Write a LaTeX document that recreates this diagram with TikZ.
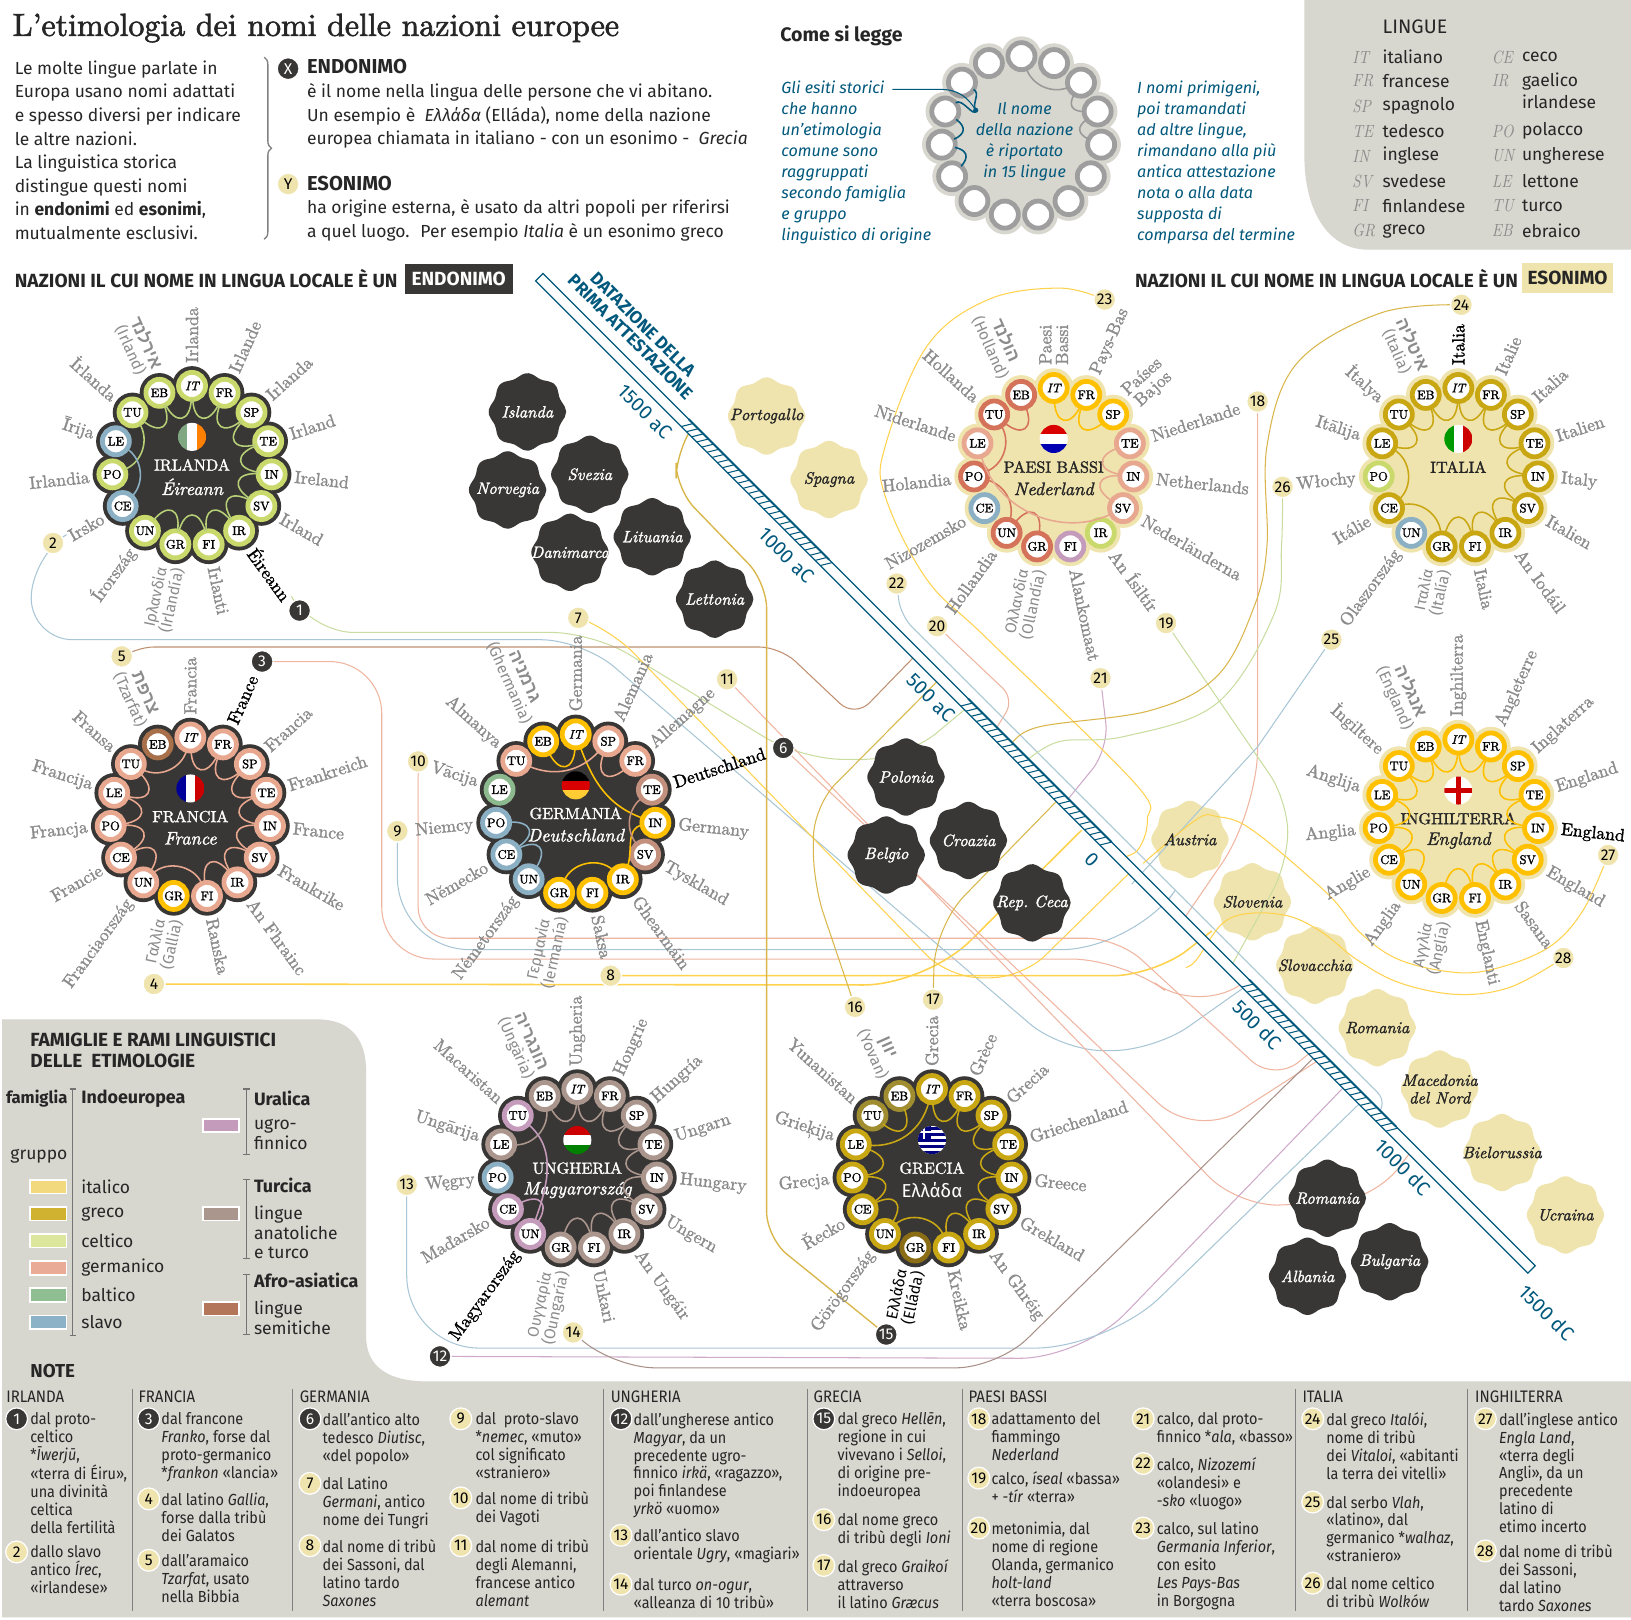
\documentclass[tikz,border=0pt]{standalone}
\usepackage{fontspec}
\usepackage{tikz}
\usetikzlibrary{calc,decorations.pathreplacing}
\TeXXeTstate=1
\newfontfamily\corpo{Fira Sans}
\newfontfamily\notaf[FakeStretch=.9]{Fira Sans}
\newfontfamily\serifl[Extension=.otf,UprightFont=lmroman10-regular,ItalicFont=lmroman10-italic,FakeStretch=.85]{lmroman10}
\newfontfamily\seriflb[Extension=.otf,FakeBold=1.6]{lmroman10-regular}
\newfontfamily\seriflbi[Extension=.otf,FakeBold=1.6]{lmroman10-italic}
\newfontfamily\serift[Extension=.otf,FakeBold=2]{lmroman10-regular}
\newfontfamily\hebr[Script=Hebrew]{Liberation Sans}
\definecolor{scuro}{HTML}{383735}
\definecolor{sabbia}{HTML}{F0E4AE}
\definecolor{pannello}{HTML}{D7D6CF}
\definecolor{blu}{HTML}{00587C}
\definecolor{grigio}{HTML}{8C8C8C}
\definecolor{rIta}{HTML}{FFC000}
\definecolor{rGre}{HTML}{C9A713}
\definecolor{rGreb}{HTML}{A08D30}
\definecolor{rGrec}{HTML}{8A6D14}
\definecolor{rCel}{HTML}{C9D96B}
\definecolor{rGer}{HTML}{E8A78F}
\definecolor{rGerb}{HTML}{D4725A}
\definecolor{rGerc}{HTML}{C4907E}
\definecolor{rBal}{HTML}{8DB98F}
\definecolor{rSla}{HTML}{8BB0C4}
\definecolor{rUgr}{HTML}{C49BBB}
\definecolor{rTur}{HTML}{AB968E}
\definecolor{rSem}{HTML}{A8704A}
\definecolor{lIta}{HTML}{FFD24D}
\definecolor{lGre}{HTML}{D9B64A}
\definecolor{lCel}{HTML}{C9DDA0}
\definecolor{lGer}{HTML}{F0B5A0}
\definecolor{lSla}{HTML}{A9C6D6}
\definecolor{lUgr}{HTML}{CFA9C9}
\definecolor{lTur}{HTML}{A89088}
\definecolor{lSem}{HTML}{C08F70}
\definecolor{swIta}{HTML}{F3D97E}
\definecolor{swGre}{HTML}{D1B230}
\definecolor{swCel}{HTML}{DCE69C}
\definecolor{swGer}{HTML}{E9AB96}
\definecolor{swBal}{HTML}{8FBE93}
\definecolor{swSla}{HTML}{8BB2C6}
\definecolor{swUgr}{HTML}{C49BBB}
\definecolor{swTur}{HTML}{AB968E}
\definecolor{swSem}{HTML}{B3765A}
\pgfdeclarelayer{bg}
\pgfdeclarelayer{lines}
\pgfsetlayers{bg,lines,main}
\tikzset{
  anello/.style={circle,fill=white,line width=4.6pt,minimum size=26pt,inner sep=0pt,outer sep=0pt,text=black,
    font=\seriflb\fontsize{12}{13}\selectfont},
  etich/.style={text=grigio,inner sep=0pt,align=center,font=\seriflb\fontsize{17}{16}\selectfont},
  titolo/.style={inner sep=0pt,font=\seriflb\fontsize{15.5}{16}\selectfont},
  arco/.style={line width=1.5pt},
  rete/.style={line width=1pt,rounded corners=#1},
  rete/.default=40pt,
  liscia/.style={line width=1pt},
  badge/.style={circle,fill=sabbia,draw=white,line width=1.2pt,inner sep=0pt,minimum size=21pt,text=black,
    font=\corpo\fontsize{15}{15}\selectfont},
  badgen/.style={badge,fill=scuro,text=white},
  testo/.style={inner sep=0pt,align=left,anchor=north west,text=black!85,font=\corpo\fontsize{16.8}{22.7}\selectfont},
  blutesto/.style={testo,text=blu,font=\corpo\itshape\fontsize{15.5}{20.2}\selectfont},
  nota/.style={testo,font=\notaf\fontsize{15.4}{17.2}\selectfont},
  leg/.style={inner sep=0pt,anchor=west,text=black!85,font=\corpo\fontsize{16.8}{18.8}\selectfont,align=left},
  legb/.style={leg,font=\corpo\bfseries\fontsize{17.2}{19}\selectfont},
  swatch/.style={draw=white,line width=1.5pt,minimum width=35pt,minimum height=13pt,inner sep=0pt},
  anno/.style={inner sep=0pt,text=blu,rotate=-45,font=\corpo\fontsize{19}{19}\selectfont},
  macchiat/.style={inner sep=0pt,align=center,font=\seriflbi\fontsize{15.8}{17}\selectfont},
}
\newcommand{\ebr}[1]{{\hebr\fontsize{17}{17}\selectfont\bfseries\beginR #1\endR}}
\newcommand{\grk}[1]{{\corpo\mdseries\fontsize{15}{15}\selectfont #1}}
\newcommand{\paren}[1]{{\corpo\mdseries\fontsize{15}{15}\selectfont (#1)}}
\newcommand{\bandV}[5]{\begin{scope}[shift={(#1,#2)}]\clip (0,0) circle[radius=13.5];
  \fill[#3] (-14,-14) rectangle (-4.5,14);\fill[#4] (-4.5,-14) rectangle (4.5,14);\fill[#5] (4.5,-14) rectangle (14,14);\end{scope}}
\newcommand{\bandH}[5]{\begin{scope}[shift={(#1,#2)}]\clip (0,0) circle[radius=13.5];
  \fill[#3] (-14,-14) rectangle (14,-4.5);\fill[#4] (-14,-4.5) rectangle (14,4.5);\fill[#5] (-14,4.5) rectangle (14,14);\end{scope}}
\newcommand{\nazione}[9]{
  \fill[#4] (#2,#3) circle[radius=80];
  \foreach \i in {0,...,14} {
    \pgfmathsetmacro\rx{#2+77*cos(90-24*\i)}
    \pgfmathsetmacro\ry{#3-77*sin(90-24*\i)}
    \fill[#4] (\rx,\ry) circle[radius=19];
  }
  #8
  \node[titolo,text=#5] (#1-nome) at (#2,#3-1) {#6};
  \node[titolo,text=#5,font=\seriflbi\fontsize{17.5}{16}\selectfont] (#1-loc) at (#2,#3+20) {#7};
  \foreach \sig/\col/\lab [count=\i from 0] in {#9} {
    \pgfmathsetmacro\ang{90-24*\i}
    \pgfmathsetmacro\rx{#2+77*cos(\ang)}
    \pgfmathsetmacro\ry{#3-77*sin(\ang)}
    \pgfmathsetmacro\lx{#2+99*cos(\ang)}
    \pgfmathsetmacro\ly{#3-99*sin(\ang)}
    \ifnum\i<8 \def\anc{west}\pgfmathsetmacro\rot{\ang}\else \def\anc{east}\pgfmathsetmacro\rot{\ang+180}\fi
    \node[etich,anchor=\anc,rotate=\rot] (#1-l\i) at (\lx,\ly) {\lab};
    \node[anello,draw=\col] (#1-\sig) at (\rx,\ry) {\ifnum\i=0 \seriflbi\fontsize{12}{13}\selectfont\fi\sig};
  }
}
\newcommand{\catena}[3]{\foreach \da/\ver/\cur in {#3} {
    \pgfmathsetmacro\ls{\cur>60?2.2:1}
    \draw[arco,#2] (#1-\da) to[bend right=\cur,looseness=\ls] (#1-\ver);
  }}
\newcommand{\macchia}[7]{
  \begin{pgfonlayer}{#7}
  \fill[#4] plot[domain=0:352,samples=45,smooth] ({#2+35.5*(1+.05*cos(8*\x))*cos(\x)},{#3-35.5*(1+.05*cos(8*\x))*sin(\x)}) -- cycle;
  \end{pgfonlayer}
  \node[macchiat,text=#5] (#1) at (#2,#3) {#6};
}
\newcommand{\staffa}[3]{\draw[black!55,line width=1.3pt] (#1-3,#2) -- (#1+3,#2) (#1,#2) -- (#1,#3) (#1-3,#3) -- (#1+3,#3);}
\newcommand{\nnota}[6]{
  \node[#2] (n#1) at (#3,#4) {#1};
  \node[nota] (t#1) at (#5,#4-6) {#6};
}
\newcommand{\tratto}[2]{
  \pgfmathsetmacro\tb{#1+7}
  \foreach \t in {#1,\tb,...,#2} \draw[blu,line width=1pt] (\t,5) -- ({\t+6},-5);
  \draw[blu,line width=2pt] (#1,-5) -- (#2,-5);
}
\begin{document}
\begin{tikzpicture}[x=1pt,y=-1pt]
\useasboundingbox (0,0) rectangle (1568,1556.5);
\begin{pgfonlayer}{bg}
  \fill[white] (0,0) rectangle (1568,1556.5);
  \fill[pannello] (1254,0) -- (1568,0) -- (1568,240) -- (1315,240) .. controls (1275,240) and (1254,200) .. (1254,150) -- cycle;
  \fill[pannello] (2,980) -- (305,980) .. controls (338,980) and (352,1000) .. (352,1030) -- (352,1285) .. controls (352,1315) and (375,1328) .. (410,1328) -- (1568,1328) -- (1568,1555) -- (2,1555) -- cycle;
\end{pgfonlayer}

% testata
\node[inner sep=0pt,anchor=west,text=black!85,font=\serift\fontsize{30.7}{31}\selectfont] (tit) at (12,27) {L’etimologia dei nomi delle nazioni europee};
\node[testo] (intro) at (14,58) {Le molte lingue parlate in\\Europa usano nomi adattati\\e spesso diversi per indicare\\le altre nazioni.\\La linguistica storica\\distingue questi nomi\\in \textbf{endonimi} ed \textbf{esonimi},\\mutualmente esclusivi.};
\draw[black!50,line width=1.3pt,decorate,decoration={brace,amplitude=7pt}] (254,55) -- (254,230);
\node[badgen] (x) at (277,66) {X};
\node[badge] (y) at (277,177) {Y};
\node[testo,font=\corpo\bfseries\fontsize{19.4}{19}\selectfont] (endo) at (295,57) {ENDONIMO};
\node[testo] (endot) at (295,80) {è il nome nella lingua delle persone che vi abitano.\\Un esempio è \ \textit{Ελλάδα} (Elláda), nome della nazione\\europea chiamata in italiano - con un esonimo - \ \textit{Grecia}};
\node[testo,font=\corpo\bfseries\fontsize{19.4}{19}\selectfont] (eso) at (295,169) {ESONIMO};
\node[testo] (esot) at (295,192) {ha origine esterna, è usato da altri popoli per riferirsi\\a quel luogo. \ Per esempio \textit{Italia} è un esonimo greco};

% come si legge
\node[testo,font=\corpo\bfseries\fontsize{18.8}{19}\selectfont] (come) at (750,24) {Come si legge};
\node[blutesto] (esiti) at (751,78) {Gli esiti storici\\che hanno\\un’etimologia\\comune sono\\raggruppati\\secondo famiglia\\e gruppo\\linguistico di origine};
\node[blutesto] (primi) at (1093,78) {I nomi primigeni,\\poi tramandati\\ad altre lingue,\\rimandano alla più\\antica attestazione\\nota o alla data\\supposta di\\comparsa del termine};
\fill[pannello] (982,131) circle[radius=80];
\foreach \i in {0,...,14} {
  \pgfmathsetmacro\rx{982+77*cos(90-24*\i)}
  \pgfmathsetmacro\ry{131-77*sin(90-24*\i)}
  \fill[pannello] (\rx,\ry) circle[radius=19];
}
\foreach \sig [count=\i from 0] in {IT,FR,SP,TE,IN,SV,IR,FI,GR,UN,CE,PO,LE,TU,EB} {
  \pgfmathsetmacro\rx{982+77*cos(90-24*\i)}
  \pgfmathsetmacro\ry{131-77*sin(90-24*\i)}
  \node[anello,draw=black!38] (cs-\sig) at (\rx,\ry) {};
}
\coordinate (cs-a) at (858,86);
\coordinate (cs-b) at (938,106);
\draw[arco,blu] (cs-CE) to[bend right=60,looseness=1.6] (cs-PO);
\draw[arco,blu] (cs-PO) to[bend right=60,looseness=1.6] (cs-LE);
\draw[arco,blu] (cs-LE) to[out=40,in=-100] (cs-b);
\draw[arco,blu] (cs-TU) to[out=-30,in=120] (cs-b);
\draw[arco,black!40] (cs-IT) to[bend right=45] (cs-SP);
\draw[arco,black!40] (cs-SP) to[bend right=60,looseness=1.6] (cs-TE);
\draw[arco,black!40] (cs-TE) to[bend right=60,looseness=1.6] (cs-IN);
\draw[blu,line width=1pt] (cs-a) -- (905,86) to[out=0,in=120] (cs-b);
\fill[blu] (cs-b) circle[radius=2.5];
\node[inner sep=0pt,text=blu,align=center,font=\corpo\itshape\fontsize{15.5}{20.2}\selectfont] (cs-t) at (985,136) {Il nome\\della nazione\\è riportato\\in 15 lingue};

% lingue
\node[testo,font=\corpo\fontsize{18.8}{19}\selectfont] (lingue) at (1329,19) {LINGUE};
\foreach \sig/\nome/\yy in {IT/italiano/55,FR/francese/78,SP/spagnolo/102,TE/tedesco/126,IN/inglese/150,SV/svedese/174,FI/finlandese/198,GR/greco/222} {
  \node[inner sep=0pt,anchor=west,text=black!45,font=\serifl\itshape\fontsize{17}{17}\selectfont] (ls\sig) at (1300,\yy) {\sig};
  \node[leg] (ln\sig) at (1329,\yy) {\nome};
}
\foreach \sig/\nome/\yy in {CE/ceco/55,IR/gaelico/78,PO/polacco/126,UN/ungherese/150,LE/lettone/174,TU/turco/198,EB/ebraico/222} {
  \node[inner sep=0pt,anchor=west,text=black!45,font=\serifl\itshape\fontsize{17}{17}\selectfont] (ls\sig) at (1434,\yy) {\sig};
  \node[leg] (ln\sig) at (1463,\yy) {\nome};
}
\node[leg] (ln2) at (1463,98) {irlandese};

% intestazioni
\node[inner sep=0pt,anchor=west,text=black!85,font=\corpo\bfseries\fontsize{18.3}{18}\selectfont] (hl) at (14,268) {NAZIONI IL CUI NOME IN LINGUA LOCALE È UN};
\node[fill=scuro,text=white,inner sep=0pt,minimum width=104pt,minimum height=29pt,font=\corpo\bfseries\fontsize{18.3}{18}\selectfont] (he) at (441,268.5) {ENDONIMO};
\node[inner sep=0pt,anchor=west,text=black!85,font=\corpo\bfseries\fontsize{18.3}{18}\selectfont] (hr) at (1091,268) {NAZIONI IL CUI NOME IN LINGUA LOCALE È UN};
\node[fill=sabbia,text=black!85,inner sep=0pt,minimum width=88pt,minimum height=29pt,font=\corpo\bfseries\fontsize{18.3}{18}\selectfont] (hs) at (1507,267) {ESONIMO};

% numeri
\foreach \n/\xx/\yy in {1/288/587,3/252/636,6/753/719,12/423/1304,15/852/1283} \node[badgen] (b\n) at (\xx,\yy) {\n};
\foreach \n/\xx/\yy in {2/51/522,4/148/946,5/117/631,7/556/594,8/587/938,9/382/799,10/402/732,11/699/653,13/391/1139,14/551/1281,16/822/968,17/897/961,18/1209/386,19/1121/599,20/901/602,21/1058/652,22/862/561,23/1062/288,24/1405/293,25/1280/615,26/1233/468,27/1546/822,28/1503/921} \node[badge] (b\n) at (\xx,\yy) {\n};

% legami con la barra
\foreach \n/\xx/\yy in {1/930/680,2/1195/950,3/1195/945,4/1040/798,5/885/625,6/1268/1019,7/1087/838,8/1165/895,9/1120/870,10/1262/1010,11/1358/1105,12/1292/1045,13/1310/1058,14/1268/1012,15/663/415,16/908/648,17/1018/768,18/1137/885,19/1182/932,20/955/705,21/1027/768,22/1320/1075,23/1075/825,24/958/712,25/1088/850,26/985/733,27/1099/830,28/1140/930} \coordinate (e\n) at (\xx,\yy);
\begin{pgfonlayer}{lines}
  \draw[rete,lCel] (b1) -- (300,608) -- (570,608) -- (770,730) -- (870,730) -- (e1);
  \draw[rete,lSla] (b2) -- (30,535) -- (30,615) -- (560,615) -- (1020,1010) -- (1110,1010) -- (e2);
  \draw[rete=50pt,lGer] (b3) -- (367,636) -- (367,922) -- (1080,922) -- (1150,975) -- (e3);
  \draw[rete=60pt,lIta,line width=1.5pt] (b4) -- (890,947) -- (e4);
  \draw[rete=20pt,lSem] (b5) -- (128,622) -- (750,622) -- (822,690) -- (e5);
  \draw[rete=50pt,lGer] (b6) -- (1150,1095) -- (e6);
  \draw[rete=30pt,lIta] (b7) -- (588,606) -- (912,940) -- (983,940) -- (e7);
  \draw[rete,lIta,line width=1.5pt] (b8) -- (1110,938) -- (e8);
  \draw[rete=70pt,lSla] (b9) -- (382,913) -- (1090,913) -- (e9);
  \draw[rete=30pt,lGer] (b10) -- (402,902) -- (1075,902) -- (1225,1040) -- (e10);
  \draw[rete,lGer] (b11) -- (1190,1160) -- (1320,1155) -- (e11);
  \draw[rete=60pt,lUgr] (b12) -- (1040,1306) -- (e12);
  \draw[rete=70pt,lSla] (b13) -- (391,1296) -- (1065,1296) -- (e13);
  \draw[rete,lTur] (b14) -- (590,1315) -- (959,1315) -- (e14);
  \draw[rete=25pt,lGre,line width=1.3pt] (b15) -- (737,1190) -- (737,560) -- (650,470) -- (650,435) -- (e15);
  \draw[rete=30pt,lGre] (b16) -- (782,850) -- (782,775) -- (e16);
  \draw[rete,lGre] (b17) -- (899,890) -- (e17);
  \draw[rete=60pt,lGer] (b18) -- (1209,780) -- (e18);
  \draw[rete=30pt,lCel] (b19) -- (1238,770) -- (1238,830) -- (e19);
  \draw[rete=15pt,lGer] (b20) -- (975,672) -- (e20);
  \draw[rete=25pt,lUgr] (b21) -- (1066,720) -- (e21);
  \draw[rete=15pt,lSla] (b22) -- (866,592) -- (1335,1061) -- (e22);
  \draw[liscia,lIta] plot[smooth,tension=.6] coordinates {(b23) (1019,277) (950,288) (891,333) (851,429) (851,477) (891,557) (949,614) (1091,753) (1103,788) (1094,817) (e23)};
  \draw[liscia,lGre] plot[smooth,tension=.6] coordinates {(b24) (1327,301) (1247,349) (1218,429) (1218,525) (1205,585) (1170,650) (1106,683) (998,699) (968,718) (e24)};
  \draw[liscia,lSla] (b25) -- (1209,718) -- (e25);
  \draw[liscia,lCel] plot[smooth,tension=.6] coordinates {(b26) (1232,525) (1225,590) (1170,676) (1081,708) (1018,713) (e26)};
  \draw[liscia,lIta] plot[smooth,tension=.6] coordinates {(b27) (1522,875) (1490,910) (1442,930) (1401,935) (1346,923) (1308,897) (1276,859) (1204,798) (1170,785) (1150,788) (e27)};
  \draw[liscia,lIta] plot[smooth,tension=.6] coordinates {(b28) (1452,949) (1401,956) (1346,945) (1305,923) (1272,897) (1240,881) (1202,878) (1175,888) (1150,923) (e28)};
\end{pgfonlayer}

% barra del tempo
\begin{scope}[shift={(518.5,266.5)},rotate=-45]
  \draw[blu,fill=white,line width=1.2pt] (0,-5) rectangle (1349,5);
  \tratto{198}{389}
  \tratto{578}{773}
  \tratto{960}{1160}
\end{scope}
\node[inner sep=0pt,text=blu,rotate=-45,align=center,font=\corpo\bfseries\fontsize{16.8}{17}\selectfont] (dat) at (612,318) {DATAZIONE DELLA\\PRIMA ATTESTAZIONE};
\foreach \t/\xx/\yy in {1500 aC/620/396,1000 aC/756/534,500 aC/895/671,0/1050/827,500 dC/1209/985,1000 dC/1349/1122,1500 dC/1487/1262} \node[anno] at (\xx,\yy) {\t};

% stati senza legame
\foreach \n/\t/\xx/\yy in {isl/Islanda/507/396,sve/Svezia/567/456,nor/Norvegia/488/471,dan/Danimarca/548/531,lit/Lituania/627/516,let/Lettonia/687/576,pol/Polonia/871/747,cro/Croazia/931/808,bel/Belgio/852/822,cec/Rep.\ Ceca/992/868,rom/Romania/1276/1152,bul/Bulgaria/1336/1213,alb/Albania/1257/1227} {
  \macchia{\n}{\xx}{\yy}{scuro}{white}{\t}{main}
}
\foreach \n/\t/\xx/\yy in {por/Portogallo/737/400,spa/Spagna/797/461,aus/Austria/1144/807,slo/Slovenia/1204/867,slv/Slovacchia/1264/928,rmn/Romania/1324/988,mac/{Macedonia\\del Nord}/1384/1047,bie/Bielorussia/1444/1108,ucr/Ucraina/1505/1168} {
  \macchia{\n}{\xx}{\yy}{sabbia}{black!85}{\t}{bg}
}

% nazioni
\nazione{ir}{184.6}{448}{scuro}{white}{IRLANDA}{Éireann}{\bandV{184.6}{420}{rBal!90!black}{white}{orange}}{
  IT/rCel/Irlanda,FR/rCel/Irlande,SP/rCel/Irlanda,TE/rCel/Irland,IN/rCel/Ireland,SV/rCel/Irland,IR/rCel/{\color{black}Éireann},FI/rCel/Irlanti,GR/rCel/{\grk{Ιρλανδία}\\\paren{Irlandía}},UN/rCel/Írország,CE/rSla/Irsko,PO/rCel/Irlandia,LE/rSla/Īrija,TU/rCel/İrlanda,EB/rCel/{\ebr{אירלנד}\\\paren{Irland}}}
\catena{ir}{rCel!70!rBal}{PO/TU/50,TU/EB/75,EB/IT/75,IT/FR/75,FR/SP/75,SP/TE/75,TE/IN/75,IN/SV/75,SV/IR/75,IR/FI/75,FI/GR/75,GR/UN/75}
\catena{ir}{rSla}{CE/LE/50}

\nazione{fr}{183}{786}{scuro}{white}{FRANCIA}{France}{\bandV{183}{758}{blue!60!black}{white}{red!80!black}}{
  IT/rGer/Francia,FR/rGer/{\color{black}France},SP/rGer/Francia,TE/rGer/Frankreich,IN/rGer/France,SV/rGer/Frankrike,IR/rGer/An Fhrainc,FI/rGer/Ranska,GR/rIta/{\grk{Γαλλία}\\\paren{Gallia}},UN/rGer/Franciaország,CE/rGer/Francie,PO/rGer/Francja,LE/rGer/Francija,TU/rGer/Fransa,EB/rSem/{\ebr{צרפת}\\\paren{Tzarfat}}}
\catena{fr}{rGer}{TU/IT/50,IT/FR/75,FR/SP/75,SP/TE/75,TE/IN/75,IN/SV/75,SV/IR/75,IR/FI/75,FI/UN/55,UN/CE/75,CE/PO/75,PO/LE/75,LE/TU/75}

\nazione{ge}{553.5}{783}{scuro}{white}{GERMANIA}{Deutschland}{\bandH{553.5}{755}{black}{red!85!black}{rIta!80!white}}{
  IT/rIta/Germania,SP/rGer/Alemania,FR/rGer/Allemagne,TE/rGerc/{\color{black}Deutschland},IN/rIta/Germany,SV/rGerc/Tyskland,IR/rIta/Ghearmáin,FI/rIta/Saksa,GR/rIta/{\grk{Γερμανία}\\\paren{Iermanía}},UN/rSla/Németország,CE/rSla/Německo,PO/rSla/Niemcy,LE/rBal/Vācija,TU/rGer/Almanya,EB/rIta/{\ebr{גרמניה}\\\paren{Ghermania}}}
\catena{ge}{rIta}{EB/IT/75,IR/GR/55}
\draw[arco,rIta] (ge-IT) to[out=-70,in=160] (ge-IN);
\draw[arco,rIta] (ge-IN) to[out=190,in=70] (ge-IR);
\catena{ge}{rGer}{TU/SP/35,SP/FR/75}
\catena{ge}{rGerc}{TE/SV/45}
\catena{ge}{rSla}{UN/CE/75,CE/PO/75}

\nazione{hu}{555}{1124}{scuro}{white}{UNGHERIA}{Magyarország}{\bandH{555}{1096}{red!80!black}{white}{green!50!black}}{
  IT/rTur/Ungheria,FR/rTur/Hongrie,SP/rTur/Hungría,TE/rTur/Ungarn,IN/rTur/Hungary,SV/rTur/Ungern,IR/rTur/An Ungáir,FI/rTur/Unkari,GR/rTur/{\grk{Ουγγαρία}\\\paren{Oungaría}},UN/rUgr/{\color{black}Magyarország},CE/rUgr/Maďarsko,PO/rSla/Węgry,LE/rTur/Ungārija,TU/rUgr/Macaristan,EB/rTur/{\ebr{הונגריה}\\\paren{Ungària}}}
\catena{hu}{rTur}{LE/EB/50,EB/IT/75,IT/FR/75,FR/SP/75,SP/TE/75,TE/IN/75,IN/SV/75,SV/IR/75,IR/FI/75,FI/GR/75}
\catena{hu}{rUgr}{UN/CE/75}
\draw[arco,rUgr] (hu-TU) to[out=-40,in=70] (hu-UN);

\nazione{gr}{896}{1124}{scuro}{white}{GRECIA}{\corpo\mdseries\upshape\fontsize{18}{18}\selectfont Ελλάδα}{
  \begin{scope}[shift={(896,1096)}]\clip (0,0) circle[radius=13.5];
    \fill[white] (-14,-14) rectangle (14,14);
    \foreach \yy in {-13,-7,-1,5,11} \fill[blue!50!black] (-14,\yy) rectangle (14,\yy+3);
    \fill[blue!50!black] (-14,-14) rectangle (-1,-1);
    \fill[white] (-14,-9) rectangle (-1,-6.5);\fill[white] (-9,-14) rectangle (-6.5,-1);
  \end{scope}}{
  IT/rGre/Grecia,FR/rGre/Grèce,SP/rGre/Grecia,TE/rGre/Griechenland,IN/rGre/Greece,SV/rGre/Grekland,IR/rGre/An Ghréig,FI/rGre/Kreikka,GR/rGrec/{\color{black}\grk{Ελλάδα}\\\color{black}\paren{Elláda}},UN/rGre/Görögország,CE/rGre/Řecko,PO/rGre/Grecja,LE/rGre/Grieķija,TU/rGreb/Yunanistan,EB/rGreb/{\ebr{יוון}\\\paren{Yovan}}}
\catena{gr}{rGre}{LE/IT/40,TU/EB/75,IT/FR/75,FR/SP/75,SP/TE/75,TE/IN/75,IN/SV/75,SV/IR/75,IR/FI/75,FI/UN/55,UN/CE/75,CE/PO/75,PO/LE/75}

\nazione{pb}{1013}{450}{sabbia}{black!85}{PAESI BASSI}{Nederland}{\bandH{1013}{422}{red!85!black}{white}{blue!70!black}}{
  IT/rIta/{Paesi\\Bassi},FR/rIta/Pays-Bas,SP/rIta/{Países\\Bajos},TE/rGer/Niederlande,IN/rGer/Netherlands,SV/rGer/Nederländerna,IR/rCel/An Ísiltír,FI/rUgr/Alankomaat,GR/rGerb/{\grk{Ολλανδία}\\\paren{Ollandía}},UN/rGerb/Hollandia,CE/rSla/Nizozemsko,PO/rGerb/Holandia,LE/rGer/Nīderlande,TU/rGerb/Hollanda,EB/rGerb/{\ebr{הולנד}\\\paren{Holland}}}
\catena{pb}{rIta}{IT/FR/75,FR/SP/75}
\catena{pb}{rGerb}{TU/EB/75,PO/TU/50,UN/PO/45,GR/UN/75}
\catena{pb}{rGer}{LE/SV/50,TE/IN/75,IN/SV/75}

\nazione{it}{1402}{450}{sabbia}{black!85}{ITALIA}{}{\bandV{1402}{422}{green!60!black}{white}{red!80!black}}{
  IT/rGre/{\color{black}Italia},FR/rGre/Italie,SP/rGre/Italia,TE/rGre/Italien,IN/rGre/Italy,SV/rGre/Italien,IR/rGre/An Iodáil,FI/rGre/Italia,GR/rGre/{\grk{Ιταλία}\\\paren{Italía}},UN/rSla/Olaszország,CE/rGre/Itálie,PO/rCel/Włochy,LE/rGre/Itālija,TU/rGre/İtalya,EB/rGre/{\ebr{איטליה}\\\paren{Italia}}}
\catena{it}{rGre}{CE/LE/55,LE/TU/75,TU/EB/75,EB/IT/75,IT/FR/75,FR/SP/75,SP/TE/75,TE/IN/75,IN/SV/75,SV/IR/75,IR/FI/75,FI/GR/75,GR/CE/50}

\nazione{en}{1402}{788}{sabbia}{black!85}{INGHILTERRA}{England}{
  \begin{scope}[shift={(1402,760)}]\clip (0,0) circle[radius=13.5];
    \fill[white] (-14,-14) rectangle (14,14);
    \fill[red!80!black] (-14,-2.5) rectangle (14,2.5);\fill[red!80!black] (-2.5,-14) rectangle (2.5,14);
  \end{scope}}{
  IT/rIta/Inghilterra,FR/rIta/Angleterre,SP/rIta/Inglaterra,TE/rIta/England,IN/rIta/{\color{black}England},SV/rIta/England,IR/rIta/Sasana,FI/rIta/Englanti,GR/rIta/{\grk{Αγγλία}\\\paren{Anglía}},UN/rIta/Anglia,CE/rIta/Anglie,PO/rIta/Anglia,LE/rIta/Anglija,TU/rIta/İngiltere,EB/rIta/{\ebr{אנגליה}\\\paren{England}}}
\catena{en}{rIta}{UN/CE/75,CE/PO/75,PO/LE/75,LE/TU/75,TU/EB/75,EB/IT/75,IT/FR/75,FR/SP/75,SP/TE/75,TE/IN/75,IN/SV/75,SV/IR/75,IR/FI/75,FI/GR/75}

% legenda
\node[testo,font=\corpo\bfseries\fontsize{18.3}{20}\selectfont] (fam) at (29,993) {FAMIGLIE E RAMI LINGUISTICI\\DELLE \ ETIMOLOGIE};
\node[legb,anchor=east,font=\corpo\bfseries\fontsize{16}{19}\selectfont] (famiglia) at (65,1056) {famiglia};
\node[leg,anchor=east] (gruppo) at (65,1112) {gruppo};
\staffa{70}{1047}{1284}
\node[legb] (indo) at (78,1056) {Indoeuropea};
\foreach \nome/\col/\yy in {italico/swIta/1141,greco/swGre/1167,celtico/swCel/1193,germanico/swGer/1219,baltico/swBal/1245,slavo/swSla/1271} {
  \node[swatch,fill=\col] (sw\nome) at (46.5,\yy) {};
  \node[leg] (le\nome) at (78,\yy) {\nome};
}
\staffa{237}{1047}{1110}
\node[legb] (ural) at (244,1056) {Uralica};
\node[swatch,fill=swUgr] (swugr) at (212.5,1082) {};
\node[leg] (leugr) at (244,1090.5) {ugro-\\finnico};
\staffa{237}{1134}{1210}
\node[legb] (turc) at (244,1140) {Turcica};
\node[swatch,fill=swTur] (swtur) at (212.5,1167) {};
\node[leg] (letur) at (244,1185) {lingue\\anatoliche\\e turco};
\staffa{237}{1225}{1283}
\node[legb] (afro) at (244,1231) {Afro-asiatica};
\node[swatch,fill=swSem] (swsem) at (212.5,1258) {};
\node[leg] (lesem) at (244,1267) {lingue\\semitiche};

% note
\node[testo,font=\corpo\bfseries\fontsize{18}{18}\selectfont] (note) at (29,1311) {NOTE};
\foreach \xx in {127,281,580,776,925,1245,1411} \draw[black!50,line width=1pt] (\xx,1335) -- (\xx,1549);
\foreach \t/\xx in {IRLANDA/6,FRANCIA/133,GERMANIA/288,UNGHERIA/587,GRECIA/782,PAESI BASSI/931,ITALIA/1252,INGHILTERRA/1418}
  \node[nota,font=\notaf\fontsize{16}{17.2}\selectfont] at (\xx,1337) {\t};
\nnota{1}{badgen}{16}{1364}{29}{dal proto-\\celtico\\*\textit{Īwerjū},\\«terra di Éiru»,\\una divinità\\celtica\\della fertilità}
\nnota{2}{badge}{16}{1492}{29}{dallo slavo\\antico \textit{Írec},\\«irlandese»}
\nnota{3}{badgen}{143}{1364}{155}{dal francone\\\textit{Franko}, forse dal\\proto-germanico\\*\textit{frankon} «lancia»}
\nnota{4}{badge}{143}{1441}{155}{dal latino \textit{Gallia},\\forse dalla tribù\\dei Galatos}
\nnota{5}{badge}{143}{1500}{155}{dall’aramaico\\\textit{Tzarfat}, usato\\nella Bibbia}
\nnota{6}{badgen}{298}{1364}{310}{dall’antico alto\\tedesco \textit{Diutisc},\\«del popolo»}
\nnota{7}{badge}{298}{1426}{310}{dal Latino\\\textit{Germani}, antico\\nome dei Tungri}
\nnota{8}{badge}{298}{1486}{310}{dal nome di tribù\\dei Sassoni, dal\\latino tardo\\\textit{Saxones}}
\nnota{9}{badge}{443}{1364}{457}{dal \ proto-slavo\\*\textit{nemec}, «muto»\\col significato\\«straniero»}
\nnota{10}{badge}{443}{1440}{457}{dal nome di tribù\\dei Vagoti}
\nnota{11}{badge}{443}{1486}{457}{dal nome di tribù\\degli Alemanni,\\francese antico\\\textit{alemant}}
\nnota{12}{badgen}{597}{1364}{609}{dall’ungherese antico\\\textit{Magyar}, da un\\precedente ugro-\\finnico \textit{irkä}, «ragazzo»,\\poi finlandese\\\textit{yrkö} «uomo»}
\nnota{13}{badge}{597}{1476}{609}{dall’antico slavo\\orientale \textit{Ugry}, «magiari»}
\nnota{14}{badge}{597}{1523}{609}{dal turco \textit{on-ogur},\\«alleanza di 10 tribù»}
\nnota{15}{badgen}{792}{1364}{805}{dal greco \textit{Hellēn},\\regione in cui\\vivevano i \textit{Selloi},\\di origine pre-\\indoeuropea}
\nnota{16}{badge}{792}{1461}{805}{dal nome greco\\di tribù degli \textit{Ioni}}
\nnota{17}{badge}{792}{1505}{805}{dal greco \textit{Graikoí}\\attraverso\\il latino \textit{Græcus}}
\nnota{18}{badge}{941}{1364}{953}{adattamento del\\fiammingo\\\textit{Nederland}}
\nnota{19}{badge}{941}{1421}{953}{calco, \textit{íseal} «bassa»\\+ -\textit{tír} «terra»}
\nnota{20}{badge}{941}{1469}{953}{metonimia, dal\\nome di regione\\Olanda, germanico\\\textit{holt-land}\\«terra boscosa»}
\nnota{21}{badge}{1099}{1364}{1112}{calco, dal proto-\\finnico *\textit{ala}, «basso»}
\nnota{22}{badge}{1099}{1407}{1112}{calco, \textit{Nizozemí}\\«olandesi» e\\-\textit{sko} «luogo»}
\nnota{23}{badge}{1099}{1469}{1112}{calco, sul latino\\\textit{Germania Inferior},\\con esito\\\textit{Les Pays-Bas}\\in Borgogna}
\nnota{24}{badge}{1262}{1364}{1275}{dal greco \textit{Italói},\\nome di tribù\\dei \textit{Vitaloi}, «abitanti\\la terra dei vitelli»}
\nnota{25}{badge}{1262}{1444}{1275}{dal serbo \textit{Vlah},\\«latino», dal\\germanico *\textit{walhaz},\\«straniero»}
\nnota{26}{badge}{1262}{1522}{1275}{dal nome celtico\\di tribù \textit{Wolków}}
\nnota{27}{badge}{1428}{1364}{1441}{dall’inglese antico\\\textit{Engla Land},\\«terra degli\\Angli», da un\\precedente\\latino di\\etimo incerto}
\nnota{28}{badge}{1428}{1491}{1441}{dal nome di tribù\\dei Sassoni,\\dal latino\\tardo \textit{Saxones}}
\end{tikzpicture}
\end{document}
